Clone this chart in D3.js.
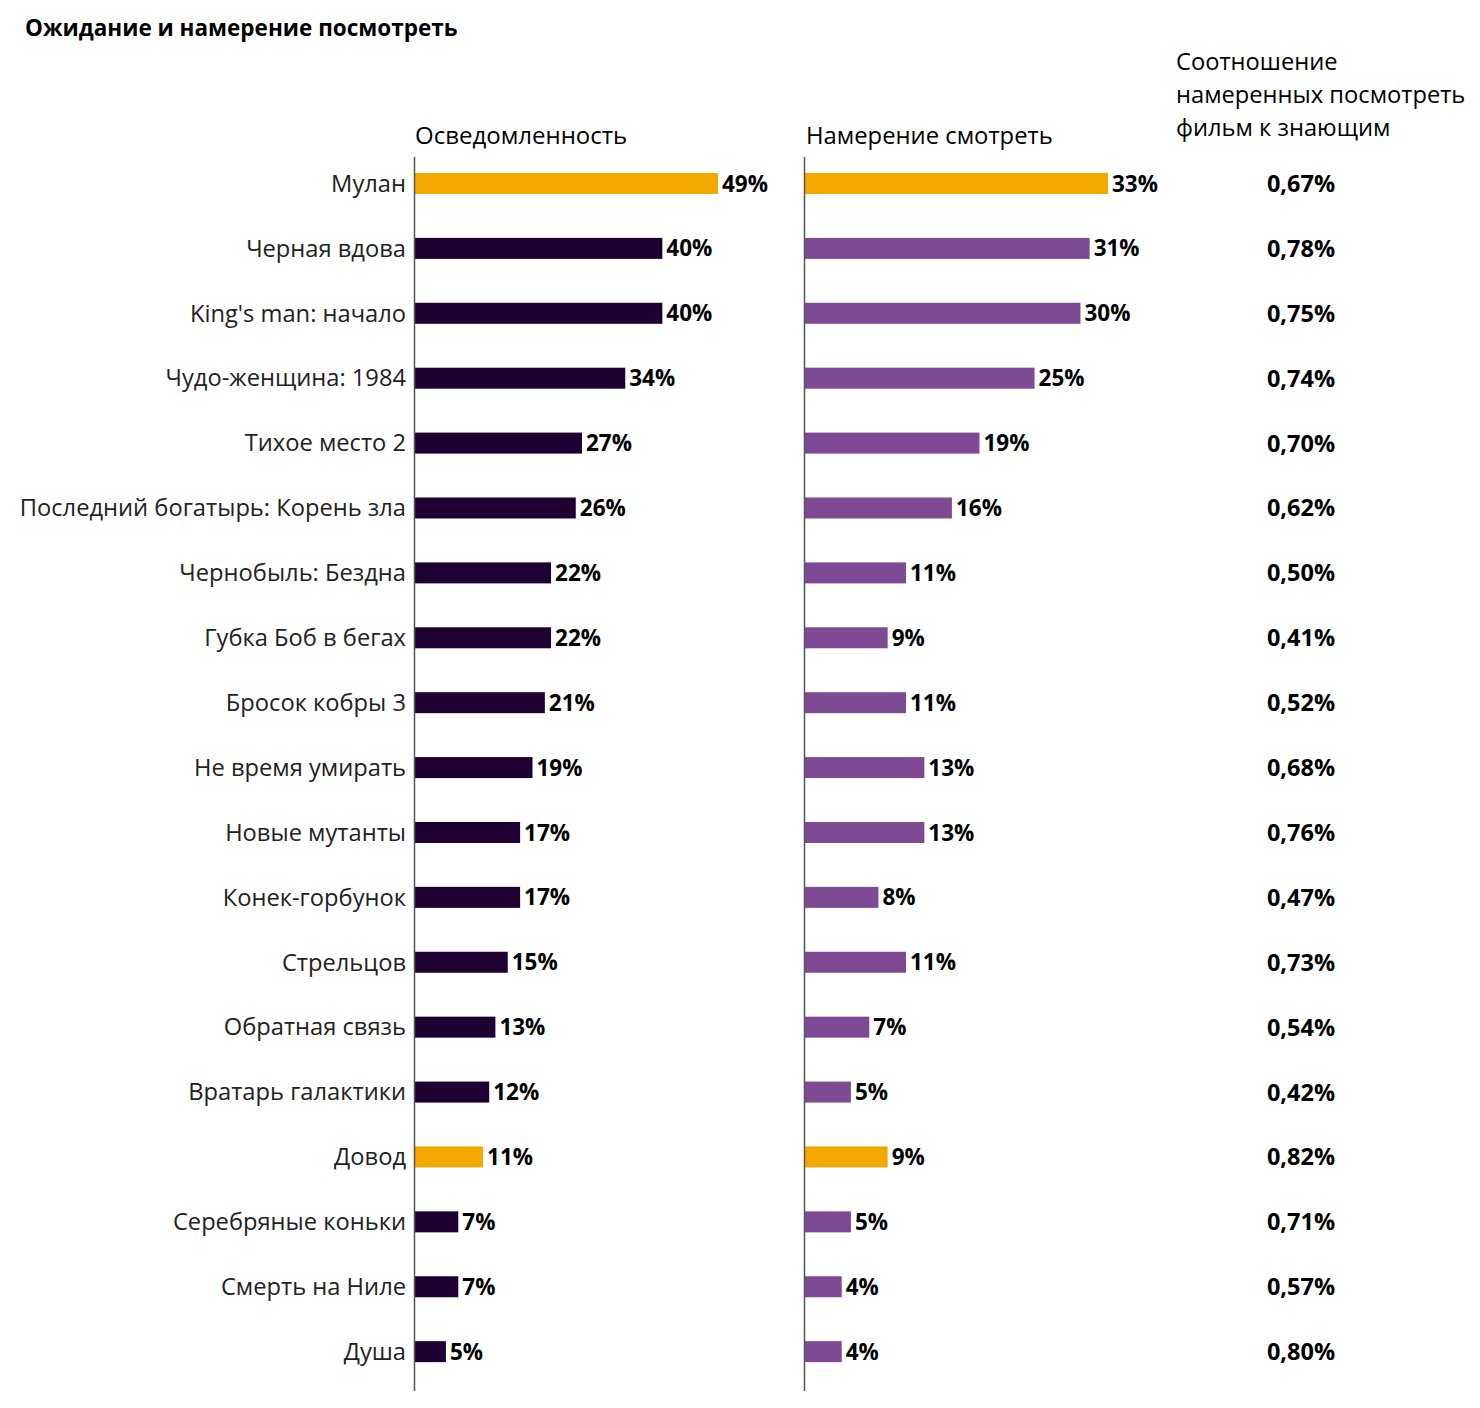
<!DOCTYPE html>
<html><head><meta charset="utf-8">
<script src="https://cdn.jsdelivr.net/npm/d3@7"></script>
<style>body{margin:0;background:#fff}svg{display:block}</style>
</head><body>
<svg id="c" width="1480" height="1408"></svg>
<script>
const categories = ["Мулан","Черная вдова","King's man: начало","Чудо-женщина: 1984","Тихое место 2","Последний богатырь: Корень зла","Чернобыль: Бездна","Губка Боб в бегах","Бросок кобры 3","Не время умирать","Новые мутанты","Конек-горбунок","Стрельцов","Обратная связь","Вратарь галактики","Довод","Серебряные коньки","Смерть на Ниле","Душа"];
const awareness = [49,40,40,34,27,26,22,22,21,19,17,17,15,13,12,11,7,7,5];
const intention = [33,31,30,25,19,16,11,9,11,13,13,8,11,7,5,9,5,4,4];
const ratioLabels = ["0,67%","0,78%","0,75%","0,74%","0,70%","0,62%","0,50%","0,41%","0,52%","0,68%","0,76%","0,47%","0,73%","0,54%","0,42%","0,82%","0,71%","0,57%","0,80%"];
const highlighted = ["Мулан","Довод"];

const svg = d3.select("#c");
const font = "'Open Sans', 'Noto Sans', sans-serif";
const GOLD = "#F5A800", DARK = "#1E0033", PURPLE = "#7E4A93", AXIS = "#555";

svg.append("text").attr("x",25).attr("y",36).attr("font-family",font).attr("font-weight",700)
  .attr("font-size",22.5).attr("fill","#000").text("Ожидание и намерение посмотреть");

const y = d3.scaleBand().domain(categories).range([140.55,1394.6]).paddingInner(0.6764).paddingOuter(0.5);
const xL = d3.scaleLinear().domain([0,49]).range([415,718]);
const xR = d3.scaleLinear().domain([0,33]).range([805,1108]);

// headers
svg.append("text").attr("x",415).attr("y",144).attr("font-family",font).attr("font-size",24).attr("fill","#000").text("Осведомленность");
svg.append("text").attr("x",806).attr("y",144).attr("font-family",font).attr("font-size",23.8).attr("fill","#000").text("Намерение смотреть");
["Соотношение","намеренных посмотреть","фильм к знающим"].forEach((t,i)=>{
  svg.append("text").attr("x",1176).attr("y",70+i*33).attr("font-family",font).attr("font-size",23.7).attr("fill","#000").text(t);
});

// category labels
svg.append("g").selectAll("text").data(categories).join("text")
  .attr("x",406).attr("y",d=>y(d)+y.bandwidth()/2).attr("dy","0.35em")
  .attr("text-anchor","end").attr("font-family",font).attr("font-size",23.7).attr("fill","#222").text(d=>d);

function panel(x, vals, base) {
  const g = svg.append("g");
  g.selectAll("rect").data(categories).join("rect")
    .attr("x",x(0)).attr("y",d=>y(d)).attr("height",y.bandwidth())
    .attr("width",(d,i)=>x(vals[i])-x(0))
    .attr("fill",d=>highlighted.includes(d)?GOLD:base);
  g.selectAll("text").data(categories).join("text")
    .attr("x",(d,i)=>x(vals[i])+4).attr("y",d=>y(d)+y.bandwidth()/2).attr("dy","0.36em")
    .attr("font-family",font).attr("font-weight",700).attr("font-size",22.5).attr("fill","#000")
    .text((d,i)=>vals[i]+"%");
  g.append("line").attr("x1",x(0)-0.5).attr("x2",x(0)-0.5).attr("y1",157).attr("y2",1391)
    .attr("stroke",AXIS).attr("stroke-width",1.5);
}
panel(xL, awareness, DARK);
panel(xR, intention, PURPLE);

svg.append("g").selectAll("text").data(categories).join("text")
  .attr("x",1301).attr("y",d=>y(d)+y.bandwidth()/2).attr("dy","0.36em")
  .attr("text-anchor","middle").attr("font-family",font).attr("font-weight",700).attr("font-size",23.5).attr("fill","#000")
  .text((d,i)=>ratioLabels[i]);
</script>
</body></html>
